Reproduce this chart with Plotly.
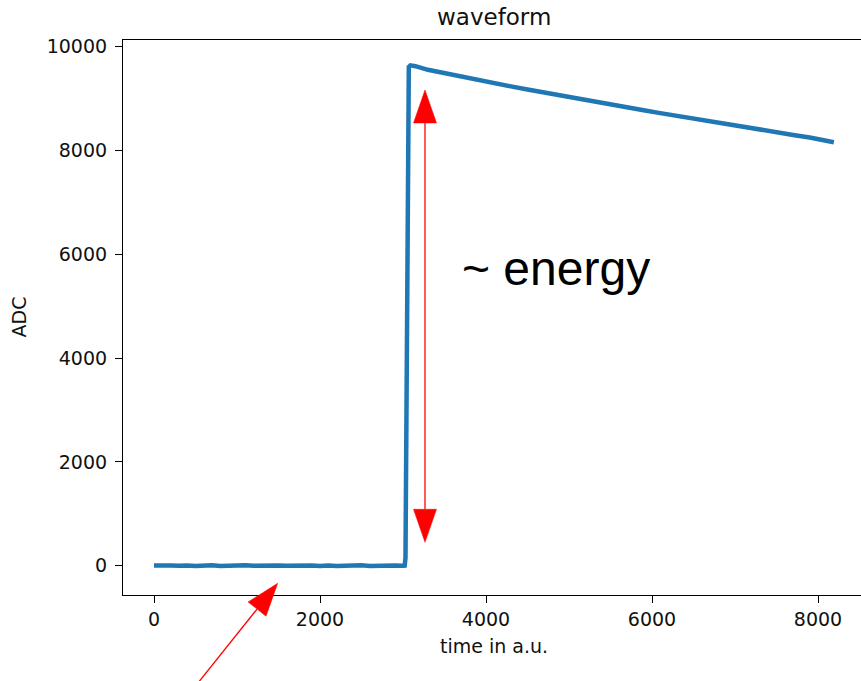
import plotly.graph_objects as go
import math

# ---- data ----
base_t = [0, 100, 200, 300, 400, 500, 600, 700, 800, 900, 1000, 1100, 1200, 1300, 1400,
          1500, 1600, 1700, 1800, 1900, 2000, 2100, 2200, 2300, 2400, 2500, 2600, 2700,
          2800, 2900, 3000, 3020]
base_adc = [4, -6, 5, -3, 6, -7, 2, 7, -4, 3, -5, 8, -2, 4, -6, 5, -3, 6, -5, 3,
            -4, 6, -6, 3, -3, 7, -4, 5, -3, 6, -2, 0]
pulse_t = [3030, 3045, 3058, 3070, 3090, 3150, 3300, 3500, 3700, 3900, 4100, 4300, 4500,
           4700, 4900, 5100, 5300, 5500, 5700, 5900, 6100, 6300, 6500, 6700, 6900, 7100,
           7300, 7500, 7700, 7900, 8100, 8191]
pulse_adc = [150, 4800, 9400, 9610, 9640, 9625, 9555, 9488, 9420, 9355, 9295, 9235, 9175,
             9115, 9055, 8995, 8940, 8885, 8830, 8775, 8720, 8665, 8612, 8560, 8505, 8455,
             8402, 8350, 8300, 8250, 8200, 8160]

time = base_t + pulse_t
adc = base_adc + pulse_adc

x_ticks = [0, 2000, 4000, 6000, 8000]
y_ticks = [0, 2000, 4000, 6000, 8000, 10000]

# annotation arrows (data coordinates): energy arrow and baseline pointer
energy_x = 3265
energy_lo, energy_hi = 451, 9166
pointer_from = (518, -2283)
pointer_to = (1490, -339)

XR = [-373.5, 8518]
YR = [-564.5, 10129]

W, H = 861, 681
ML, MR, MT, MB = 123, 0, 40, 86
PW, PH = W - ML - MR, H - MT - MB


def to_px(x, y):
    px = ML + (x - XR[0]) / (XR[1] - XR[0]) * PW
    py = MT + (YR[1] - y) / (YR[1] - YR[0]) * PH
    return px, py


def to_paper(px, py):
    return (px - ML) / PW, (MT + PH - py) / PH


def arrow_shapes(p0, p1, head_len=33, head_w=23):
    x0, y0 = to_px(*p0)
    x1, y1 = to_px(*p1)
    dx, dy = x1 - x0, y1 - y0
    L = math.hypot(dx, dy)
    ux, uy = dx / L, dy / L
    nx, ny = -uy, ux
    bx, by = x1 - ux * head_len, y1 - uy * head_len
    c1 = (bx + nx * head_w / 2, by + ny * head_w / 2)
    c2 = (bx - nx * head_w / 2, by - ny * head_w / 2)
    pts = [to_paper(x1, y1), to_paper(*c1), to_paper(*c2)]
    path = "M{},{} L{},{} L{},{} Z".format(pts[0][0], pts[0][1], pts[1][0], pts[1][1],
                                           pts[2][0], pts[2][1])
    return (bx, by), path


RED = "#ff0000"
shapes = []
# energy double arrow
b_top, path_top = arrow_shapes((energy_x, energy_lo), (energy_x, energy_hi))
b_bot, path_bot = arrow_shapes((energy_x, energy_hi), (energy_x, energy_lo))
pa = to_paper(*b_top)
pb = to_paper(*b_bot)
shapes.append(dict(type="line", xref="paper", yref="paper", x0=pa[0], y0=pa[1], x1=pb[0], y1=pb[1],
                   line=dict(color=RED, width=1.3), layer="above"))
for p in (path_top, path_bot):
    shapes.append(dict(type="path", xref="paper", yref="paper", path=p,
                       fillcolor=RED, line=dict(color=RED, width=0.5), layer="above"))
# pointer arrow
b_ptr, path_ptr = arrow_shapes(pointer_from, pointer_to)
s0 = to_paper(*to_px(*pointer_from))
s1 = to_paper(*b_ptr)
shapes.append(dict(type="line", xref="paper", yref="paper", x0=s0[0], y0=s0[1], x1=s1[0], y1=s1[1],
                   line=dict(color=RED, width=1.3), layer="above"))
shapes.append(dict(type="path", xref="paper", yref="paper", path=path_ptr,
                   fillcolor=RED, line=dict(color=RED, width=0.5), layer="above"))

fig = go.Figure()
fig.add_trace(go.Scatter(x=time, y=adc, mode="lines",
                         line=dict(color="#1f77b4", width=4.5), showlegend=False,
                         hoverinfo="skip"))

mpl_font = dict(family="DejaVu Sans", size=19, color="#111111")

fig.update_layout(
    width=W, height=H,
    margin=dict(l=ML, r=MR, t=MT, b=MB, pad=0),
    paper_bgcolor="white", plot_bgcolor="white",
    font=mpl_font,
    showlegend=False,
    xaxis=dict(range=XR, tickvals=x_ticks, ticktext=[str(v) for v in x_ticks],
               showgrid=False, zeroline=False, showline=True, linecolor="#000000",
               linewidth=1.1, mirror=True, ticks="outside", ticklen=7, tickwidth=1.1,
               tickcolor="#000000", tickfont=mpl_font),
    yaxis=dict(range=YR, tickvals=y_ticks, ticktext=[str(v) for v in y_ticks],
               showgrid=False, zeroline=False, showline=True, linecolor="#000000",
               linewidth=1.1, mirror=False, ticks="outside", ticklen=7, tickwidth=1.1,
               tickcolor="#000000", tickfont=mpl_font, ticklabelstandoff=4),
    shapes=shapes,
    annotations=[
        dict(text="waveform", xref="paper", yref="paper", x=(494 - ML) / PW, y=1,
             yshift=8, xanchor="center", yanchor="bottom", showarrow=False,
             font=dict(family="DejaVu Sans", size=23, color="#111111")),
        dict(text="time in a.u.", xref="paper", yref="paper", x=(494 - ML) / PW, y=0,
             yshift=-38, xanchor="center", yanchor="top", showarrow=False,
             font=mpl_font),
        dict(text="ADC", xref="paper", yref="paper", x=0, xshift=-105, y=0.5,
             textangle=-90, xanchor="center", yanchor="middle", showarrow=False,
             font=mpl_font),
        dict(text="~ energy", xref="paper", yref="paper", x=(556 - ML) / PW,
             y=(MT + PH - 268) / PH, xanchor="center", yanchor="middle", showarrow=False,
             font=dict(family="Liberation Sans", size=48, color="#000000")),
    ],
)

fig.write_html("out.html")
